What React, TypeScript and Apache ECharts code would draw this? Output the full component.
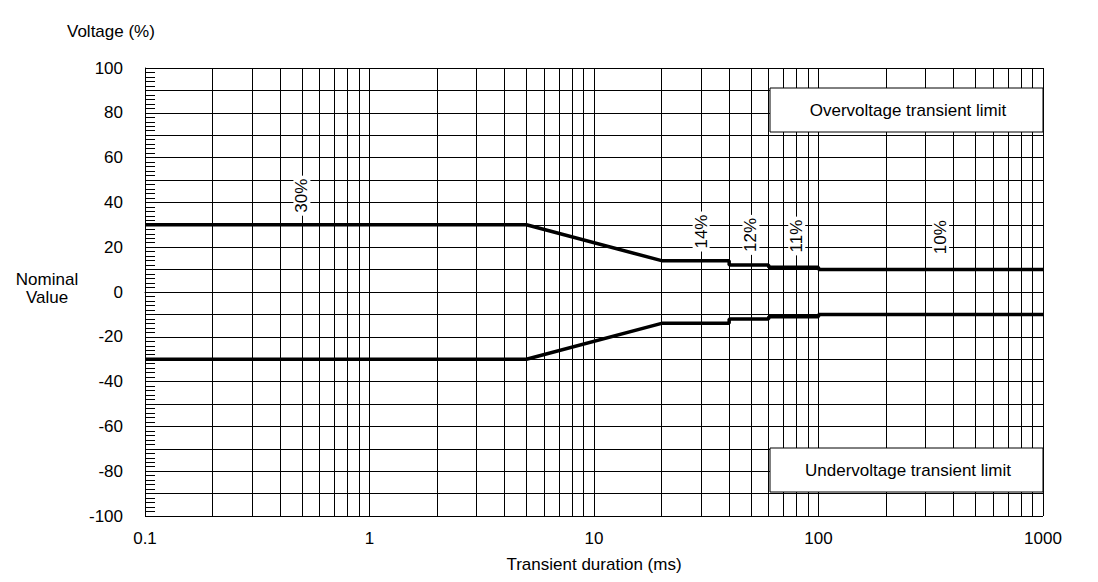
import React, { useEffect, useRef } from "react";
import * as echarts from "echarts";

const upperLimit: [number, number][] = [
  [0.1, 30], [5, 30], [20, 14], [40, 14], [40, 12], [60, 12], [60, 11], [100, 11], [100, 10], [1000, 10],
];
const lowerLimit: [number, number][] = upperLimit.map(([x, y]) => [x, -y]);
const minorX = [0.2, 0.3, 0.4, 0.5, 0.6, 0.7, 0.8, 0.9, 2, 3, 4, 5, 6, 7, 8, 9, 20, 30, 40, 50, 60, 70, 80, 90, 200, 300, 400, 500, 600, 700, 800, 900];
const stepLabels: { text: string; x: number; y: number }[] = [
  { text: "30%", x: 0.5, y: 43 },
  { text: "14%", x: 30, y: 27 },
  { text: "12%", x: 50, y: 25.5 },
  { text: "11%", x: 80, y: 25 },
  { text: "10%", x: 350, y: 24.5 },
];

const FONT = "Liberation Sans, Arial, sans-serif";
const FS = 17;

export default function App() {
  const ref = useRef<HTMLDivElement>(null);

  useEffect(() => {
    if (!ref.current) return;
    const chart = echarts.init(ref.current, undefined, { renderer: "svg" });
    const thick = { color: "#000", width: 3.5 };
    chart.setOption({
      animation: false,
      backgroundColor: "#fff",
      textStyle: { fontFamily: FONT },
      grid: { left: 145, right: 55, top: 68, bottom: 66 },
      xAxis: {
        type: "log", logBase: 10, min: 0.1, max: 1000,
        name: "Transient duration (ms)", nameLocation: "middle", nameGap: 40,
        nameTextStyle: { color: "#000", fontSize: FS, fontFamily: FONT },
        axisLine: { lineStyle: { color: "#000" } },
        axisTick: { show: false },
        axisLabel: { color: "#000", fontSize: FS, margin: 14, formatter: (v: number) => (v < 1 ? "0.1" : String(Math.round(v))) },
        splitLine: { show: true, lineStyle: { color: "#000", width: 1 } },
      },
      yAxis: {
        type: "value", min: -100, max: 100, interval: 10,
        axisLine: { show: true, lineStyle: { color: "#000" } },
        axisTick: { show: true, inside: true, length: 10, lineStyle: { color: "#000" } },
        minorTick: { show: true, splitNumber: 5, length: 10, lineStyle: { color: "#000" } },
        axisLabel: { color: "#000", fontSize: FS, margin: 22, formatter: (v: number) => (v % 20 === 0 ? String(v) : "") },
        splitLine: { show: true, lineStyle: { color: "#000", width: 1 } },
      },
      series: [
        {
          type: "line", data: [], silent: true,
          markLine: {
            silent: true, symbol: "none", label: { show: false },
            lineStyle: { color: "#000", width: 1, type: "solid" },
            data: minorX.map((v) => ({ xAxis: v })),
          },
        },
        { type: "line", data: upperLimit, showSymbol: false, lineStyle: thick, z: 5 },
        { type: "line", data: lowerLimit, showSymbol: false, lineStyle: thick, z: 5 },
      ],
    });

    const labels = stepLabels.map((l) => {
      const [px, py] = chart.convertToPixel({ gridIndex: 0 }, [l.x, l.y]) as number[];
      return {
        type: "text", x: px, y: py, rotation: Math.PI / 2, z: 20,
        style: {
          text: l.text, fill: "#000", font: `${FS}px ${FONT}`, align: "center", verticalAlign: "middle",
          backgroundColor: "#fff", padding: [0, 3],
        },
      };
    });
    const box = (y: number, text: string) => [
      { type: "rect", shape: { x: 770, y, width: 273, height: 44 }, style: { fill: "#fff", stroke: "#000", lineWidth: 1 }, z: 20 },
      { type: "text", x: 908, y: y + 22, z: 21, style: { text, fill: "#000", font: `${FS}px ${FONT}`, align: "center", verticalAlign: "middle" } },
    ];
    chart.setOption({
      graphic: [
        { type: "text", x: 67, y: 23, style: { text: "Voltage (%)", fill: "#000", font: `${FS}px ${FONT}` } },
        { type: "text", x: 47, y: 288, style: { text: "Nominal\nValue", fill: "#000", font: `${FS}px ${FONT}`, align: "center", verticalAlign: "middle", lineHeight: 18 } },
        ...box(88, "Overvoltage transient limit"),
        ...box(448, "Undervoltage transient limit"),
        ...labels,
      ],
    });
    return () => chart.dispose();
  }, []);

  return <div ref={ref} style={{ position: "absolute", left: 0, top: 0, width: 1098, height: 582 }} />;
}
